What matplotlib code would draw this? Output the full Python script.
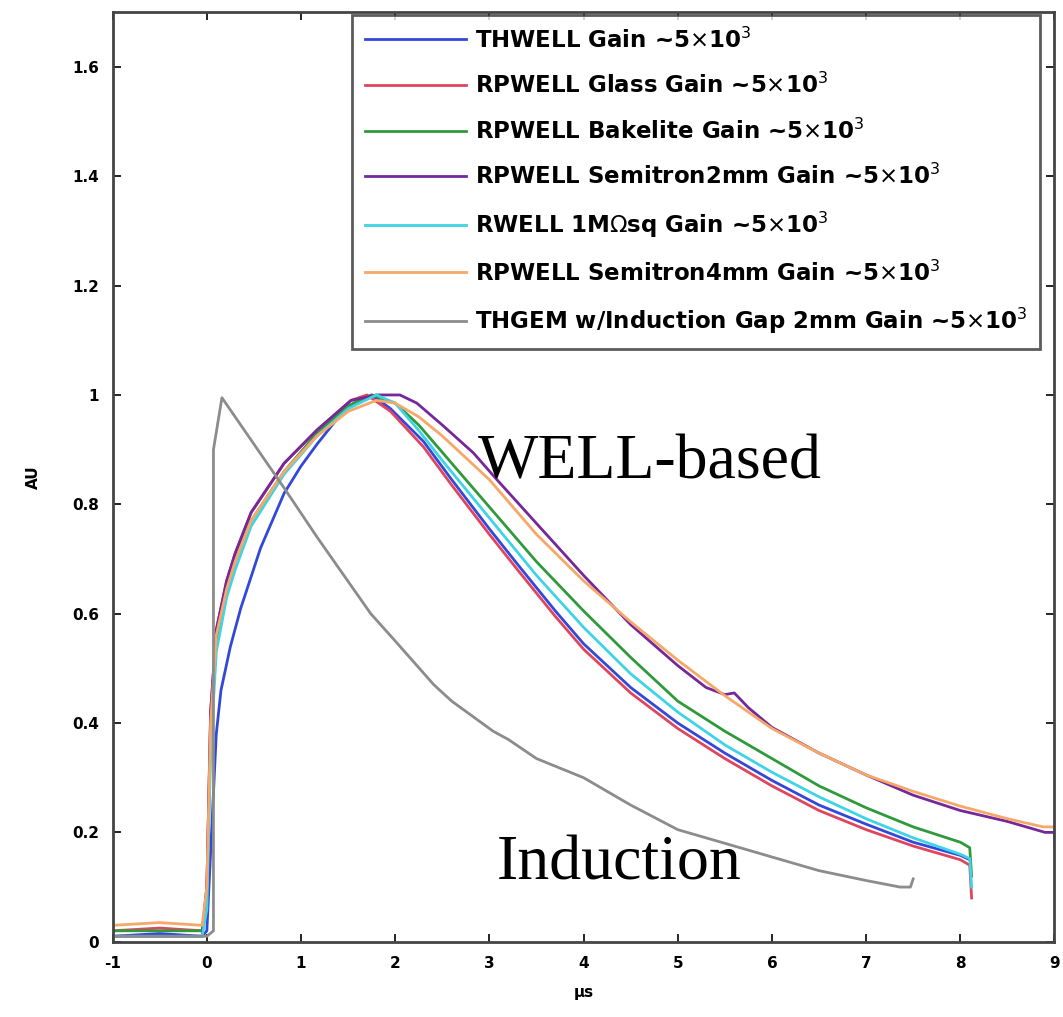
import matplotlib.pyplot as plt

# Pulse shapes (x in microseconds, y normalised)
thwell_x = [-1, -0.5, -0.05, 0.0, 0.05, 0.1, 0.15, 0.25, 0.36, 0.57, 0.82, 1.0, 1.17, 1.4, 1.56, 1.75, 1.95, 2.3, 2.6, 3.0, 3.3, 3.7, 4.0, 4.5, 5.0, 5.5, 6.0, 6.5, 7.0, 7.5, 8.0, 8.1]
thwell_y = [0.01, 0.015, 0.01, 0.02, 0.2, 0.38, 0.46, 0.54, 0.61, 0.72, 0.82, 0.87, 0.91, 0.96, 0.985, 1.0, 0.975, 0.915, 0.845, 0.755, 0.69, 0.605, 0.545, 0.465, 0.40, 0.345, 0.295, 0.25, 0.215, 0.182, 0.158, 0.15]

glass_x = [-1, -0.5, -0.05, 0.0, 0.04, 0.1, 0.21, 0.3, 0.47, 0.82, 1.17, 1.53, 1.7, 1.95, 2.3, 2.6, 3.0, 3.3, 3.7, 4.0, 4.5, 5.0, 5.5, 6.0, 6.5, 7.0, 7.5, 8.0, 8.1, 8.12]
glass_y = [0.02, 0.025, 0.02, 0.1, 0.42, 0.57, 0.66, 0.71, 0.785, 0.875, 0.936, 0.99, 1.0, 0.97, 0.905, 0.835, 0.745, 0.68, 0.595, 0.535, 0.455, 0.39, 0.335, 0.285, 0.24, 0.205, 0.175, 0.15, 0.14, 0.08]

bakelite_x = [-1, -0.5, -0.05, 0.0, 0.04, 0.1, 0.21, 0.3, 0.47, 0.82, 1.17, 1.5, 1.75, 2.0, 2.25, 2.5, 3.0, 3.5, 4.0, 4.5, 5.0, 5.5, 6.0, 6.5, 7.0, 7.5, 8.0, 8.1, 8.12]
bakelite_y = [0.02, 0.02, 0.02, 0.08, 0.38, 0.55, 0.645, 0.695, 0.77, 0.86, 0.93, 0.98, 1.0, 0.985, 0.945, 0.895, 0.795, 0.695, 0.605, 0.52, 0.44, 0.385, 0.335, 0.285, 0.245, 0.21, 0.182, 0.172, 0.12]

semi2_x = [-1, -0.5, -0.05, 0.0, 0.04, 0.1, 0.21, 0.3, 0.47, 0.82, 1.17, 1.53, 1.8, 2.05, 2.23, 2.5, 2.83, 3.08, 3.5, 4.0, 4.5, 5.0, 5.3, 5.5, 5.6, 5.75, 6.0, 6.5, 7.0, 7.5, 8.0, 8.5, 8.9, 9.0, 9.02]
semi2_y = [0.01, 0.01, 0.01, 0.1, 0.42, 0.57, 0.66, 0.71, 0.785, 0.875, 0.936, 0.99, 1.0, 1.0, 0.985, 0.945, 0.894, 0.845, 0.765, 0.67, 0.58, 0.505, 0.465, 0.452, 0.455, 0.428, 0.392, 0.345, 0.305, 0.268, 0.24, 0.22, 0.20, 0.20, 0.12]

mohm_x = [-1, -0.5, -0.05, 0.0, 0.04, 0.1, 0.21, 0.3, 0.47, 0.82, 1.17, 1.5, 1.8, 2.0, 2.25, 2.5, 3.0, 3.5, 4.0, 4.5, 5.0, 5.5, 6.0, 6.5, 7.0, 7.5, 8.0, 8.1, 8.12]
mohm_y = [0.01, 0.01, 0.01, 0.06, 0.35, 0.53, 0.63, 0.68, 0.76, 0.855, 0.925, 0.975, 1.0, 0.985, 0.935, 0.88, 0.775, 0.67, 0.575, 0.49, 0.42, 0.36, 0.31, 0.265, 0.225, 0.19, 0.16, 0.152, 0.10]

semi4_x = [-1, -0.5, -0.05, 0.0, 0.04, 0.1, 0.21, 0.3, 0.47, 0.82, 1.17, 1.5, 1.8, 2.0, 2.25, 2.5, 3.0, 3.5, 4.0, 4.5, 5.0, 5.5, 6.0, 6.5, 7.0, 7.5, 8.0, 8.5, 8.88, 9.0]
semi4_y = [0.03, 0.035, 0.03, 0.1, 0.4, 0.56, 0.645, 0.695, 0.77, 0.86, 0.925, 0.97, 0.99, 0.985, 0.96, 0.925, 0.845, 0.745, 0.66, 0.585, 0.515, 0.45, 0.39, 0.345, 0.305, 0.275, 0.248, 0.225, 0.21, 0.21]

thgem_x = [-1, -0.5, 0.0, 0.07, 0.07, 0.16, 0.5, 0.82, 1.17, 1.74, 2.0, 2.41, 2.6, 3.04, 3.2, 3.5, 4.0, 4.5, 5.0, 5.5, 6.0, 6.5, 7.0, 7.36, 7.47, 7.5]
thgem_y = [0.01, 0.01, 0.01, 0.02, 0.90, 0.995, 0.91, 0.83, 0.74, 0.60, 0.55, 0.47, 0.44, 0.385, 0.37, 0.335, 0.30, 0.25, 0.205, 0.18, 0.155, 0.13, 0.112, 0.10, 0.10, 0.115]

labels = [r'THWELL Gain ~5$\times$10$^3$',
          r'RPWELL Glass Gain ~5$\times$10$^3$',
          r'RPWELL Bakelite Gain ~5$\times$10$^3$',
          r'RPWELL Semitron2mm Gain ~5$\times$10$^3$',
          r'RWELL 1M$\Omega$sq Gain ~5$\times$10$^3$',
          r'RPWELL Semitron4mm Gain ~5$\times$10$^3$',
          r'THGEM w/Induction Gap 2mm Gain ~5$\times$10$^3$']
colors = ['#3348d8', '#e0455e', '#2f9a3c', '#74289a', '#3fd3e6', '#f6a868', '#8c8c8c']

series = [(thwell_x, thwell_y), (glass_x, glass_y), (bakelite_x, bakelite_y),
          (semi2_x, semi2_y), (mohm_x, mohm_y), (semi4_x, semi4_y), (thgem_x, thgem_y)]

fig = plt.figure(figsize=(10.63, 10.17), dpi=100)
ax = fig.add_axes([0.106, 0.074, 0.886, 0.914])

for (xs, ys), c, lab in zip(series, colors, labels):
    ax.plot(xs, ys, color=c, lw=2.0, label=lab)

ax.set_xlim(-1, 9)
ax.set_ylim(0, 1.7)
ax.set_xticks(range(-1, 10))
ax.set_xticklabels([str(i) for i in range(-1, 10)], fontsize=11, fontweight='bold')
ax.set_yticks([0, 0.2, 0.4, 0.6, 0.8, 1.0, 1.2, 1.4, 1.6])
ax.set_yticklabels(['0', '0.2', '0.4', '0.6', '0.8', '1', '1.2', '1.4', '1.6'], fontsize=11, fontweight='bold')
ax.tick_params(direction='in', length=6, width=1.2, top=True, right=True, pad=10)
for sp in ax.spines.values():
    sp.set_linewidth(2)
    sp.set_color('#444444')

ax.set_ylabel('AU', fontsize=11, fontweight='bold', labelpad=22)
ax.set_xlabel('µs', fontsize=11, fontweight='bold', labelpad=10)

ax.text(2.88, 0.848, 'WELL-based', fontsize=46, family='Liberation Serif', va='baseline')
ax.text(3.08, 0.113, 'Induction', fontsize=46, family='Liberation Serif', va='baseline')

leg = ax.legend(loc='upper right', bbox_to_anchor=(0.9846, 0.9973), borderaxespad=0,
                handlelength=4.4, handletextpad=0.4, labelspacing=0.89, fancybox=False,
                borderpad=0.55, prop={'weight': 'bold', 'size': 16.5})
leg.get_frame().set_edgecolor('#333333')
leg.get_frame().set_linewidth(2)

plt.savefig('out.png', dpi=100)
